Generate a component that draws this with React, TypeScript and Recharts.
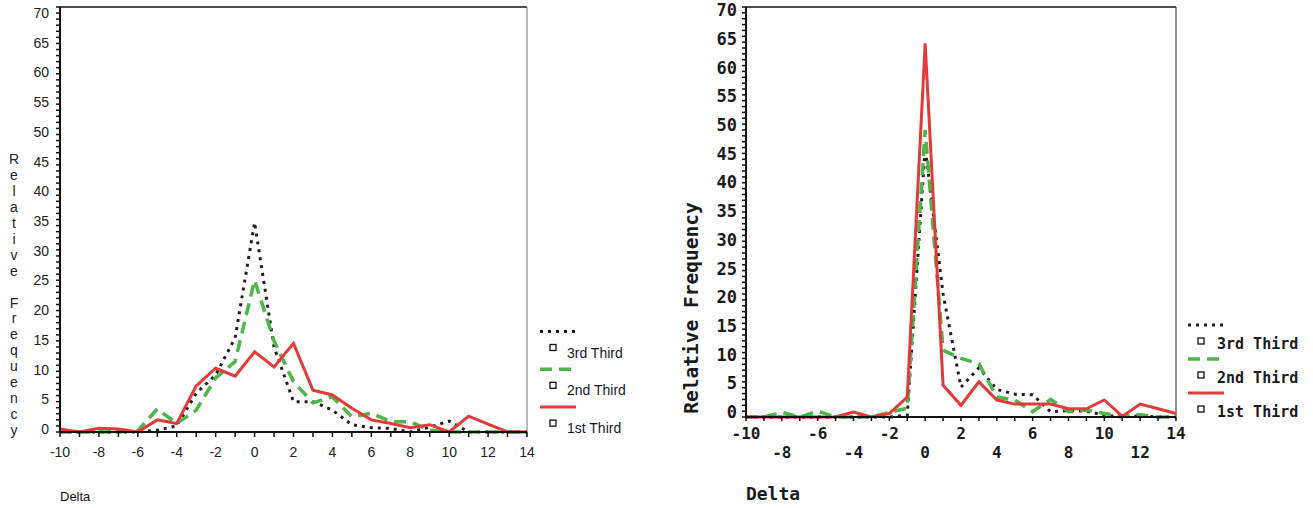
import {Line, LineChart, ReferenceLine, XAxis, YAxis} from "recharts";

// shared x categories (Delta)
const deltas = [-10, -9, -8, -7, -6, -5, -4, -3, -2, -1, 0, 1, 2, 3, 4, 5, 6, 7, 8, 9, 10, 11, 12, 13, 14];
const yTicks = Array.from({length: 71}, (_, i) => i);

// left panel
const left3rd = [0, 0, 0, 0, 0, 0.3, 1, 6.4, 9.4, 15.5, 34.5, 14, 5, 5, 3.6, 1.2, 0.7, 0.6, 0, 0.8, 1.8, 0, 0, 0, 0];
const left2nd = [0, 0, 0, 0, 0.2, 3.8, 1.4, 3.6, 8.9, 11.6, 25, 15, 8.3, 4.8, 5.8, 2.5, 3.1, 1.7, 1.7, 0.3, 0, 0, 0, 0, 0];
const left1st = [0.5, 0, 0.6, 0.5, 0, 2, 1.4, 7.6, 10.5, 9.2, 13.2, 10.7, 14.6, 6.9, 6.1, 3.9, 2, 1.4, 0.7, 1.2, 0, 2.6, 1.3, 0, 0];

// right panel
const right3rd = [0, 0, 0, 0, 0, 0, 0, 0, 0, 0.3, 46, 21, 5.1, 8.4, 4.7, 3.9, 3.8, 0.9, 1.1, 1, 0.3, 0, 0.2, 0, 0];
const right2nd = [0, 0, 0.8, 0, 1, 0, 0, 0, 0.8, 1.5, 49, 11.4, 10, 9.1, 3.4, 2.9, 0.9, 3, 0.9, 1.2, 0.6, 0.1, 0.4, 0, 0];
const right1st = [0, 0, 0, 0, 0, 0, 0.85, 0, 0.6, 3.4, 63.8, 5.4, 2, 6, 2.9, 2.2, 2.2, 2.2, 1.4, 1.4, 2.9, 0.1, 2.2, 1.4, 0.6];

const seriesNames = ["3rd Third", "2nd Third", "1st Third"];

const series = [
    {key: "third3", name: seriesNames[0], color: "#1e1e1e", dash: "3 5", width: 3},
    {key: "third2", name: seriesNames[1], color: "#4cb64a", dash: "12 7", width: 3.5},
    {key: "third1", name: seriesNames[2], color: "#e23a3a", dash: undefined, width: 3},
];

const buildRows = (a: number[], b: number[], c: number[]) =>
    deltas.map((d, i) => ({delta: d, third3: a[i], third2: b[i], third1: c[i]}));

const leftRows = buildRows(left3rd, left2nd, left1st);
const rightRows = buildRows(right3rd, right2nd, right1st);

const sansFont = "'Liberation Sans', Arial, sans-serif";
const monoFont = "'DejaVu Sans Mono', monospace";

// y labels in the original sit a little squeezed towards the middle
function LeftYTick(props: any) {
    const {x, y, payload} = props;
    const v = payload.value;
    if (v % 5 !== 0) return null;
    const shift = -3 + 9 * (v / 70);
    return <text x={x - 3} y={y + shift} dy="0.36em" textAnchor="end" fontFamily={sansFont} fontSize={14}
                 fill="#222">{v}</text>;
}

function LeftXTick(props: any) {
    const {x, y, payload} = props;
    const v = payload.value;
    if (v % 2 !== 0) return null;
    return <text x={x} y={y} dy="0.71em" textAnchor="middle" fontFamily={sansFont} fontSize={14}
                 fill="#222">{v}</text>;
}

function RightYTick(props: any) {
    const {x, y, payload} = props;
    const v = payload.value;
    if (v % 5 !== 0) return null;
    const shift = -5 + 8 * (v / 70);
    return <text x={x - 1} y={y + shift} dy="0.36em" textAnchor="end" fontFamily={monoFont} fontWeight="bold"
                 fontSize={17} fill="#1a1a1a">{v}</text>;
}

function RightXTick(props: any) {
    const {x, y, payload} = props;
    const v = payload.value;
    const row = (v + 10) % 4 === 0 ? 1 : (v + 10) % 4 === 2 ? 2 : 0;
    if (row === 0) return null;
    return <text x={x} y={row === 1 ? y + 8 : y + 27} dy="0.36em" textAnchor="middle"
                 fontFamily={monoFont} fontWeight="bold" fontSize={16} fill="#1a1a1a">{v}</text>;
}

function Lines() {
    return series.map(s => (
        <Line key={s.key} type="linear" dataKey={s.key} name={s.name} stroke={s.color} strokeWidth={s.width}
              strokeDasharray={s.dash} dot={false} activeDot={false} isAnimationActive={false}/>
    ));
}

function LegendBlock({x, y, step, textDx, textDy, font, size, weight}: any) {
    return (
        <g>
            {series.map((s, i) => {
                const top = y + i * step;
                return (
                    <g key={s.key}>
                        <line x1={x} x2={x + 36} y1={top} y2={top} stroke={s.color} strokeWidth={s.width}
                              strokeDasharray={s.dash}/>
                        <rect x={x + 10} y={top + 13} width={6} height={6} fill="#fff" stroke="#111"
                              strokeWidth={1.3}/>
                        <text x={x + textDx} y={top + textDy} dy="0.36em" fontFamily={font} fontSize={size}
                              fontWeight={weight} fill="#1a1a1a">{s.name}</text>
                    </g>
                );
            })}
        </g>
    );
}

const leftTitle = "Relative Frequency";
const tickStroke = {stroke: "#111", strokeWidth: 1.5};
const axisStroke = {stroke: "#111", strokeWidth: 2};

export default function App() {
    return (
        <div style={{position: "absolute", left: 0, top: 0, width: 1313, height: 508, background: "#fff"}}>
            <div style={{position: "absolute", left: 0, top: 0}}>
                <LineChart width={660} height={508} data={leftRows}
                           margin={{top: 7, right: 133, left: 20, bottom: 46}}>
                    <XAxis dataKey="delta" type="number" domain={[-10, 14]} ticks={deltas} interval={0} height={30}
                           tickSize={5} tickMargin={10} tickLine={tickStroke} tick={<LeftXTick/>}
                           axisLine={axisStroke}/>
                    <YAxis type="number" domain={[0, 70]} ticks={yTicks} interval={0} width={40} tickSize={4}
                           tickMargin={4} tickLine={tickStroke} tick={<LeftYTick/>} axisLine={axisStroke}/>
                    <ReferenceLine y={70} stroke="#111" strokeWidth={1.5}/>
                    <ReferenceLine x={14} stroke="#777" strokeWidth={1}/>
                    {Lines()}
                </LineChart>
            </div>
            <div style={{position: "absolute", left: 660, top: 0}}>
                <LineChart width={653} height={508} data={rightRows}
                           margin={{top: 7, right: 137, left: 36, bottom: 51}}>
                    <XAxis dataKey="delta" type="number" domain={[-10, 14]} ticks={deltas} interval={0} height={40}
                           tickSize={4} tickMargin={4} tickLine={tickStroke} tick={<RightXTick/>}
                           axisLine={axisStroke}/>
                    <YAxis type="number" domain={[0, 70]} ticks={yTicks} interval={0} width={50} tickSize={4}
                           tickMargin={4} tickLine={tickStroke} tick={<RightYTick/>} axisLine={axisStroke}/>
                    <ReferenceLine y={70} stroke="#111" strokeWidth={1.5}/>
                    <ReferenceLine x={14} stroke="#222" strokeWidth={1}/>
                    {Lines()}
                </LineChart>
            </div>
            <svg width={1313} height={508} style={{position: "absolute", left: 0, top: 0, pointerEvents: "none"}}>
                {leftTitle.split("").map((ch, i) => (
                    <text key={i} x={14} y={159 + i * 15.94} dy="0.36em" textAnchor="middle" fontFamily={sansFont}
                          fontSize={14} fill="#222">{ch}</text>
                ))}
                <text x={60} y={496} dy="0.36em" fontFamily={sansFont} fontSize={13} fill="#111">Delta</text>
                <LegendBlock x={540} y={331.5} step={37.8} textDx={27} textDy={21} font={sansFont} size={14}
                             weight="normal"/>

                <text transform="translate(691,308) rotate(-90)" textAnchor="middle" dy="0.36em" fontFamily={monoFont}
                      fontWeight="bold" fontSize={19.5} fill="#1a1a1a">{leftTitle}</text>
                <text x={773} y={494} dy="0.36em" textAnchor="middle" fontFamily={monoFont} fontWeight="bold"
                      fontSize={18} fill="#1a1a1a">Delta</text>
                <LegendBlock x={1188} y={325} step={34} textDx={29} textDy={19} font={monoFont} size={15}
                             weight="bold"/>
            </svg>
        </div>
    );
}
